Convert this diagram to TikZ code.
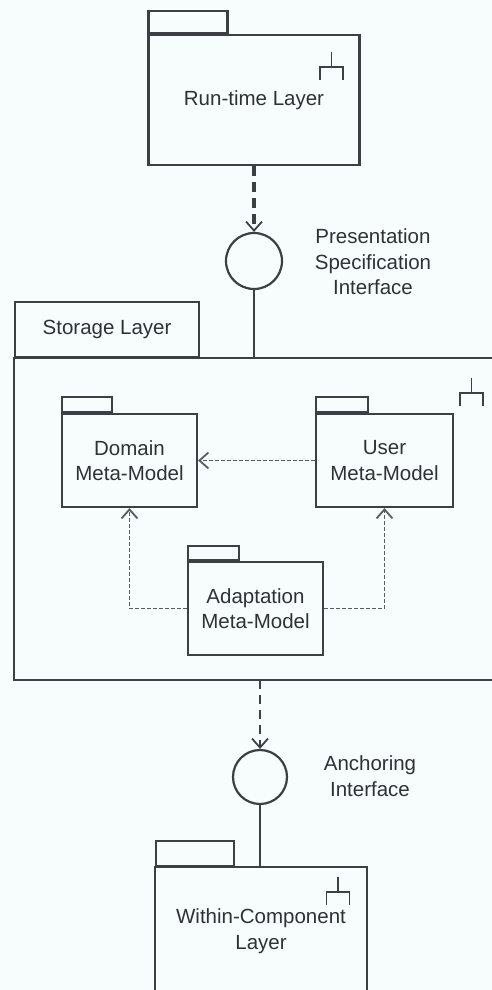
\documentclass[tikz,border=0pt]{standalone}
\usepackage{fontspec}
\setmainfont{Liberation Sans}
\usetikzlibrary{arrows.meta}
\definecolor{ink}{HTML}{3C4045}
\definecolor{txt}{HTML}{2F3235}
\definecolor{dep}{HTML}{575C61}
\definecolor{paper}{HTML}{F7FCFC}
\begin{document}
\begin{tikzpicture}[x=1pt,y=-1pt,
  lbl/.style={text=txt,font=\fontsize{20.5}{25.5}\selectfont,align=center},
  pkgbody/.style={draw=ink,line width=2.2pt,rectangle,inner sep=0pt,lbl},
  pkgtab/.style={draw=ink,line width=2.2pt,rectangle,inner sep=0pt,anchor=south west,lbl},
  pkgline/.style={draw=ink,line width=2.2pt},
  iface/.style={draw=ink,line width=2.2pt,circle,inner sep=0pt},
  barb/.style={-{Straight Barb[length=9pt,width=16pt,line width=1.8pt]}},
  heavydep/.style={draw=ink,line width=4pt,dash pattern=on 10pt off 6pt,barb},
  lightdep/.style={draw=ink,line width=1.6pt,dash pattern=on 9pt off 6pt,barb},
  innerdep/.style={draw=dep,line width=1.5pt,dash pattern=on 3.5pt off 2.5pt,barb},
  compicon/.pic={\draw[ink,line width=1.8pt] (0,0) -- (0,15) (-11.5,28) |- (11.5,15) -- (11.5,28);}
]
\fill[paper] (0,0) rectangle (492,990);
\useasboundingbox (0,0) rectangle (492,990);

% Run-time layer package
\node[pkgbody,minimum width=211pt,minimum height=130pt] (run) at (254,100) {Run-time Layer};
\node[pkgtab,minimum width=79pt,minimum height=22pt] (runtab) at (run.north west) {};
\pic at (331.5,52) {compicon};

% Presentation specification interface
\node[iface,minimum size=56pt] (psi) at (254,261) {};
\node[lbl] (psilbl) at (373,262) {Presentation\\Specification\\Interface};
\draw[heavydep] (run) -- (psi);

% Storage layer package (body runs past the right edge)
\coordinate (stNW) at (14,358);
\coordinate (stSW) at (14,680);
\coordinate (stNE) at (492,358);
\coordinate (stSE) at (492,680);
\draw[pkgline] (stNE) -- (stNW) -- (stSW) -- (stSE);
\node[pkgtab,minimum width=184pt,minimum height=55pt] (sttab) at (stNW) {Storage Layer};
\pic at (471.5,378) {compicon};
\draw[pkgline] (psi) -- (psi |- stNW);

% Meta-model packages inside the storage layer
\node[pkgbody,minimum width=135pt,minimum height=93pt] (dom) at (129.5,460.5) {Domain\\Meta-Model};
\node[pkgtab,minimum width=50pt,minimum height=15pt] (domtab) at (dom.north west) {};
\node[pkgbody,minimum width=137pt,minimum height=93pt] (usr) at (384.5,460.5) {User\\Meta-Model};
\node[pkgtab,minimum width=52pt,minimum height=15pt] (usrtab) at (usr.north west) {};
\node[pkgbody,minimum width=135pt,minimum height=93pt] (ada) at (255.5,608.5) {Adaptation\\Meta-Model};
\node[pkgtab,minimum width=51pt,minimum height=14pt] (adatab) at (ada.north west) {};

\draw[innerdep] (usr) -- (dom);
\draw[innerdep] (ada.west) -| (dom.south);
\draw[innerdep] (ada.east) -| (usr.south);

% Anchoring interface
\node[iface,minimum size=54pt] (anc) at (260,777) {};
\node[lbl] (anclbl) at (370,776) {Anchoring\\Interface};
\draw[lightdep] (anc |- stSW) -- (anc);

% Within-component layer package (body runs past the bottom edge)
\coordinate (witNW) at (155,867);
\coordinate (witNE) at (367,867);
\coordinate (witSW) at (155,990);
\coordinate (witSE) at (367,990);
\draw[pkgline] (witSW) -- (witNW) -- (witNE) -- (witSE);
\node[pkgtab,minimum width=78pt,minimum height=25pt] (wittab) at (witNW) {};
\node[lbl] (witlbl) at (261,931) {Within-Component\\Layer};
\pic at (338,877) {compicon};
\draw[pkgline] (anc) -- (anc |- witNW);
\end{tikzpicture}
\end{document}
